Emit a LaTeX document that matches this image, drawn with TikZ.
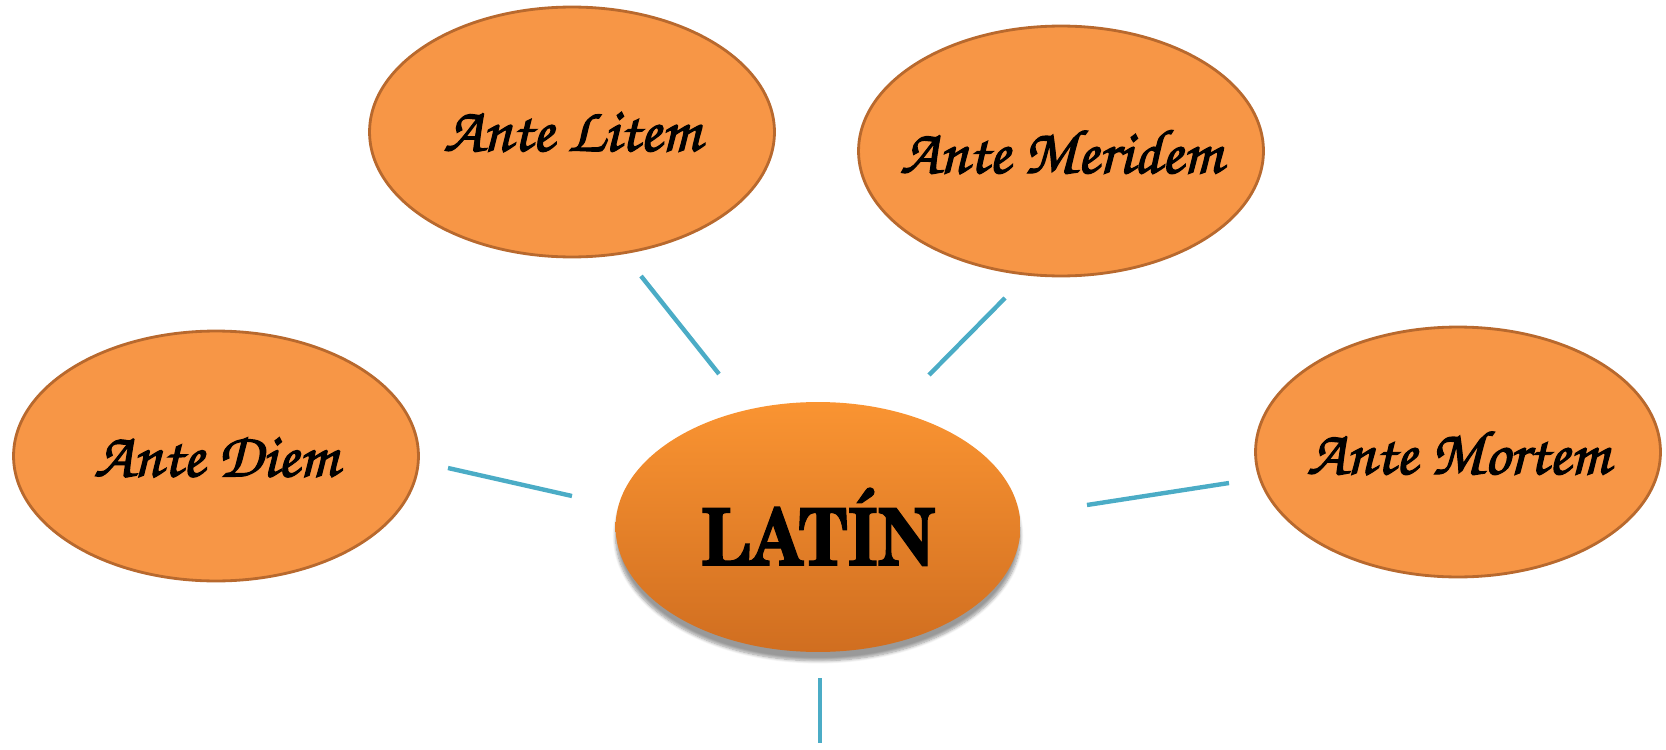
\documentclass[tikz,border=0pt]{standalone}
\usepackage[T1,TU]{fontenc}
\usepackage{tikz}
\usetikzlibrary{positioning,shapes.geometric,shadows.blur}
\definecolor{leaffill}{HTML}{F79646}
\definecolor{leafdraw}{HTML}{B8692E}
\definecolor{linkblue}{HTML}{4BACC6}
\definecolor{hubtop}{HTML}{FA9432}
\definecolor{hubbottom}{HTML}{D06E20}
\newcommand{\antefont}{\color{black}\fontencoding{T1}\fontfamily{pzc}\fontseries{mb}\fontshape{it}\fontsize{36}{42}\selectfont}
\newcommand{\hubfont}{\color{black}\fontencoding{T1}\fontfamily{pnc}\fontseries{b}\fontshape{n}\fontsize{45}{50}\selectfont}
% heavier strokes for the labels, boxed to zero width so the ellipse keeps its size
\newcommand{\heavy}[1]{\makebox[0pt]{\special{pdf:literal 2 Tr 0.7 w}#1\special{pdf:literal 0 Tr}}}
\tikzset{
  leaf/.style={ellipse,draw=leafdraw,line width=1.6pt,fill=leaffill,minimum width=8.1cm,minimum height=5cm,inner sep=0pt,font=\antefont},
  hub/.style={ellipse,top color=hubtop,bottom color=hubbottom,minimum width=8.1cm,minimum height=5cm,inner sep=0pt,font=\hubfont,
    blur shadow={shadow xshift=0pt,shadow yshift=-5pt,shadow opacity=40,shadow blur steps=8}},
  link/.style={draw=linkblue,line width=2.5pt}
}
\begin{document}
\begin{tikzpicture}[x=0.02cm,y=-0.02cm]
      \useasboundingbox (0,0) rectangle (1666,750);
      \node[hub] (latin) at (818,527) {\heavy{\scalebox{0.86}[1]{LAT\'IN}}};
      \node[leaf] (litem) at (572,132) {\heavy{Ante Litem}};
      \node[leaf] (meridem) at (1061,151) {\heavy{Ante Meridem}};
      \node[leaf] (diem) at (216,456) {\heavy{Ante Diem}};
      \node[leaf] (mortem) at (1458,452) {\heavy{Ante Mortem}};
      \coordinate (l1) at (641,276);  \coordinate (l2) at (719,374);
      \coordinate (m1) at (1005,298); \coordinate (m2) at (929,375);
      \coordinate (d1) at (448,468);  \coordinate (d2) at (572,496);
      \coordinate (t1) at (1229,483); \coordinate (t2) at (1087,505);
      \coordinate (b1) at (820,678);  \coordinate (b2) at (820,743);
      \begin{scope}[every path/.style={link}]
        \draw (l1) -- (l2);
        \draw (m1) -- (m2);
        \draw (d1) -- (d2);
        \draw (t1) -- (t2);
        \draw (b1) -- (b2);
      \end{scope}
    \end{tikzpicture}
\end{document}
